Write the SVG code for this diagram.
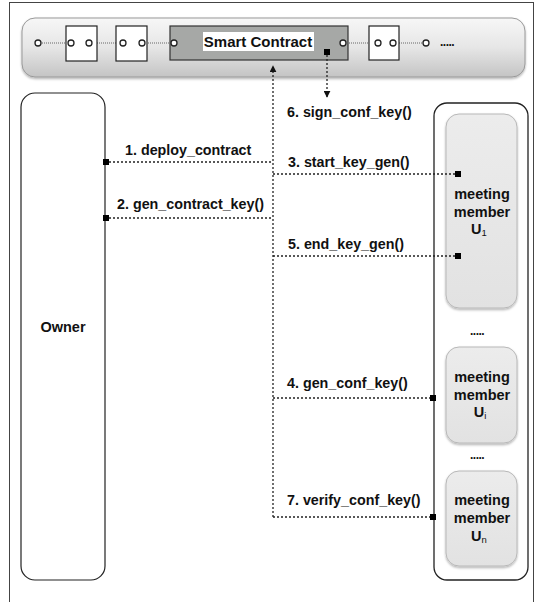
<svg xmlns="http://www.w3.org/2000/svg" width="536" height="602" viewBox="0 0 536 602">
<defs>
<linearGradient id="bar" x1="0" y1="0" x2="0" y2="1">
<stop offset="0" stop-color="#f7f7f7"/>
<stop offset="0.5" stop-color="#e6e6e6"/>
<stop offset="1" stop-color="#c4c4c4"/>
</linearGradient>
<linearGradient id="mem" x1="0" y1="0" x2="0" y2="1">
<stop offset="0" stop-color="#ececec"/>
<stop offset="1" stop-color="#e2e2e2"/>
</linearGradient>
<filter id="sh" x="-10%" y="-10%" width="120%" height="130%">
<feDropShadow dx="0" dy="1.5" stdDeviation="1.2" flood-color="#000" flood-opacity="0.3"/>
</filter>
<marker id="ah" viewBox="0 0 10 10" refX="9" refY="5" markerWidth="7" markerHeight="7" markerUnits="userSpaceOnUse" orient="auto">
<path d="M0,0 L10,5 L0,10 z" fill="#111"/>
</marker>
</defs>
<style>
text,tspan{font-family:"Liberation Sans","Noto Sans",Arial,sans-serif;font-weight:bold;fill:#111}
.lbl{font-size:14.3px}
.mt{font-size:14.5px;text-anchor:middle}
.sc{font-size:15px;text-anchor:middle}
.sub{font-size:9.5px;font-weight:normal}
.dots{font-size:12px;letter-spacing:-0.5px}
.conn{stroke:#222;stroke-width:1.3;stroke-dasharray:2 2;fill:none}
.chain{stroke:#666;stroke-width:1;stroke-dasharray:1 1;fill:none}
.ring{fill:#fff;stroke:#222;stroke-width:1.3}
.blk{fill:#fff;stroke:#222;stroke-width:1.2}
.sq{fill:#000}
.mbox{fill:url(#mem);stroke:#b8b8b8;stroke-width:1}
</style>
<rect x="9.5" y="2.5" width="524" height="610" fill="#fff" stroke="#444" stroke-width="1"/>

<g id="blockchain">
<rect x="22" y="18" width="503" height="59" rx="13" fill="url(#bar)" stroke="#999" stroke-width="1" filter="url(#sh)"/>
<path class="chain" d="M38,43 H71 M89,43 H123 M142,43 H174 M343,43 H378 M393,43 H426"/>
<rect class="blk" x="66" y="26" width="31" height="35"/>
<rect class="blk" x="116" y="26" width="31" height="35"/>
<rect class="blk" x="369" y="26" width="30" height="34"/>
<circle class="ring" cx="38" cy="43" r="3"/>
<circle class="ring" cx="71" cy="43" r="3"/>
<circle class="ring" cx="89" cy="43" r="3"/>
<circle class="ring" cx="123" cy="43" r="3"/>
<circle class="ring" cx="142" cy="43" r="3"/>
<circle class="ring" cx="378" cy="43" r="3"/>
<circle class="ring" cx="393" cy="43" r="3"/>
<circle class="ring" cx="426" cy="43" r="3"/>
<text x="440" y="46" class="dots">.....</text>
</g>

<g id="smart-contract">
<rect x="170" y="26" width="178" height="34" fill="#a6a8a6" stroke="#333" stroke-width="1.2"/>
<circle class="ring" cx="174" cy="43" r="3"/>
<circle class="ring" cx="343" cy="43" r="3"/>
<rect x="203" y="32" width="111" height="19" fill="#fff"/>
<text x="258" y="47" class="sc">Smart Contract</text>
<rect class="sq" x="324" y="49" width="6" height="6"/>
</g>

<g id="owner">
<rect x="21" y="93" width="84" height="487" rx="14" fill="#fff" stroke="#222" stroke-width="1.2"/>
<text x="63" y="332" class="mt">Owner</text>
</g>

<g id="members">
<rect x="434" y="103" width="94" height="477" rx="13" fill="#fff" stroke="#222" stroke-width="1.3"/>
<g id="member-u1">
<rect class="mbox" x="446" y="114" width="71" height="194" rx="13" filter="url(#sh)"/>
<text x="482" y="199" class="mt">meeting</text>
<text x="482" y="217" class="mt">member</text>
<text x="479" y="234" class="mt">U<tspan class="sub" dy="2">1</tspan></text>
</g>
<text x="470" y="335" class="dots">.....</text>
<g id="member-ui">
<rect class="mbox" x="446" y="347" width="71" height="96" rx="13" filter="url(#sh)"/>
<text x="482" y="382" class="mt">meeting</text>
<text x="482" y="400" class="mt">member</text>
<text x="480" y="417" class="mt">U<tspan class="sub" dy="2">i</tspan></text>
</g>
<text x="470" y="459" class="dots">.....</text>
<g id="member-un">
<rect class="mbox" x="446" y="471" width="71" height="95" rx="13" filter="url(#sh)"/>
<text x="482" y="505" class="mt">meeting</text>
<text x="482" y="523" class="mt">member</text>
<text x="479" y="541" class="mt">U<tspan class="sub" dy="2">n</tspan></text>
</g>
</g>

<g id="connectors">
<path class="conn" d="M273,517 V66" marker-end="url(#ah)"/>
<path class="conn" d="M327,55 V97" marker-end="url(#ah)"/>
<path class="conn" d="M105,162 H273"/>
<path class="conn" d="M105,218 H273"/>
<path class="conn" d="M273,174 H458"/>
<path class="conn" d="M273,256 H458"/>
<path class="conn" d="M273,398 H433"/>
<path class="conn" d="M273,517 H433"/>
<rect class="sq" x="103" y="159" width="6" height="6"/>
<rect class="sq" x="103" y="215" width="6" height="6"/>
<rect class="sq" x="455" y="171" width="6" height="6"/>
<rect class="sq" x="455" y="253" width="6" height="6"/>
<rect class="sq" x="430" y="395" width="6" height="6"/>
<rect class="sq" x="430" y="514" width="6" height="6"/>
<text x="125" y="155" class="lbl">1. deploy_contract</text>
<text x="117" y="209" class="lbl">2. gen_contract_key()</text>
<text x="287" y="117" class="lbl">6. sign_conf_key()</text>
<text x="288" y="167" class="lbl">3. start_key_gen()</text>
<text x="288" y="249" class="lbl">5. end_key_gen()</text>
<text x="287" y="388" class="lbl">4. gen_conf_key()</text>
<text x="287" y="505" class="lbl">7. verify_conf_key()</text>
</g>
</svg>
